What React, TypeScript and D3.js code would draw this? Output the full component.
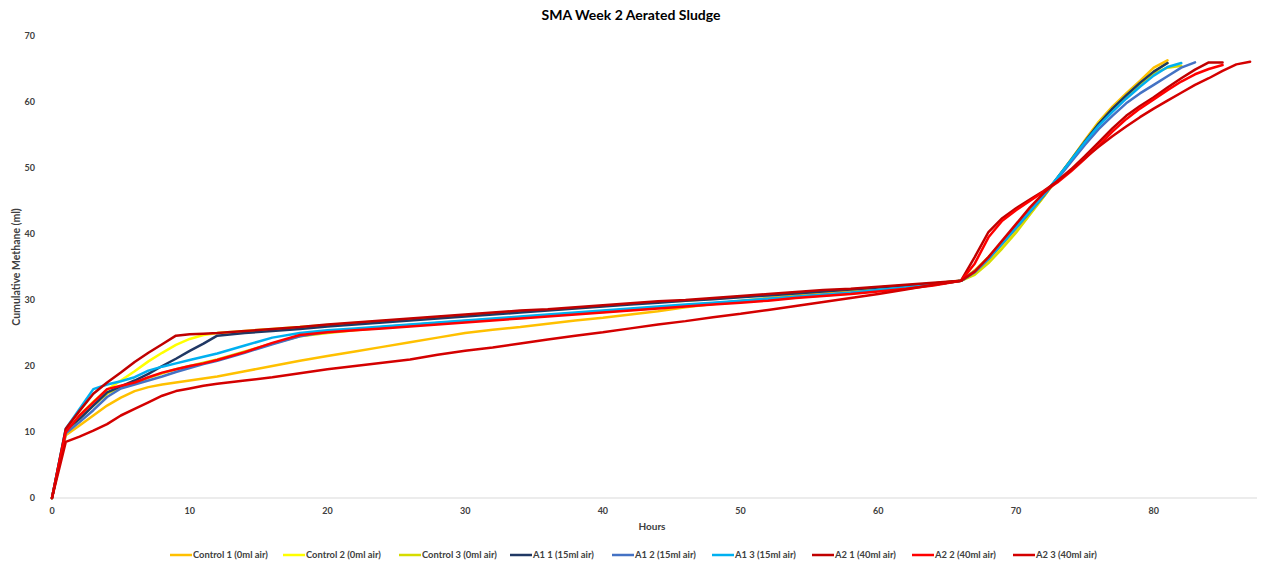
import React from "react";
import * as d3 from "d3";

const hours = [0,1,2,3,4,5,6,7,8,9,10,11,12,14,16,18,20,22,24,26,28,30,32,34,36,38,40,42,44,46,48,50,52,54,56,58,60,62,64,66,67,68,69,70,71,72,73,74,75,76,77,78,79,80,81,82,83,84,85,86,87];

type V = number | null;
const _ = null;

const control1: V[] = [0,9.5,11,12.5,14,15.2,16.2,16.8,17.2,17.5,17.8,18.1,18.4,19.2,20.0,20.8,21.5,22.2,22.9,23.6,24.3,25.0,25.5,25.9,26.4,26.9,27.3,27.8,28.3,28.9,29.4,29.9,30.3,30.7,31.1,31.4,31.8,32.1,32.5,32.9,34.5,36.5,38.8,41.2,43.5,45.8,48.5,51.3,54.2,57.0,59.3,61.3,63.2,65.2,66.3,_,_,_,_,_,_];
const control2: V[] = [0,10,12.5,14.6,16.4,17.8,19.2,20.7,22.0,23.2,24.1,24.7,25.0,25.3,25.6,25.9,26.2,26.5,26.8,27.1,27.4,27.7,28.0,28.3,28.5,28.8,29.1,29.4,29.7,29.9,30.2,30.5,30.8,31.1,31.4,31.6,31.9,32.2,32.5,32.9,34.0,35.8,38.0,40.4,43.0,45.6,48.4,51.2,54.0,56.8,59.0,61.0,62.9,64.6,65.9,_,_,_,_,_,_];
const control3: V[] = [0,9.8,12,14,15.8,16.8,17.4,18.2,18.9,19.5,20,20.5,21,22.2,23.4,24.5,25.0,25.4,25.8,26.1,26.4,26.7,27.0,27.3,27.6,27.9,28.2,28.5,28.8,29.1,29.4,29.7,30.0,30.4,30.7,31.0,31.4,31.8,32.3,32.9,33.8,35.6,37.8,40.2,42.9,45.6,48.4,51.2,54.0,56.6,58.8,60.8,62.6,64.3,65.2,65.5,_,_,_,_,_];
const a1_1: V[] = [0,10.3,12,14,16,16.9,17.8,18.8,20.0,21.1,22.3,23.4,24.6,25.0,25.3,25.6,26.0,26.3,26.6,26.9,27.2,27.5,27.8,28.1,28.4,28.7,29.0,29.3,29.6,29.9,30.1,30.4,30.7,31.0,31.3,31.6,31.9,32.2,32.5,32.9,34.3,36.4,38.7,41.0,43.4,45.8,48.5,51.2,54.0,56.7,59.0,61.0,62.9,64.6,65.9,_,_,_,_,_,_];
const a1_2: V[] = [0,9.8,11.5,13.3,15.3,16.6,17.2,17.8,18.4,19.1,19.7,20.3,20.8,22.0,23.3,24.5,25.2,25.5,25.9,26.2,26.5,26.8,27.1,27.4,27.7,28.0,28.3,28.6,28.9,29.2,29.5,29.8,30.1,30.5,30.8,31.1,31.5,31.9,32.3,32.9,34.2,36.2,38.5,40.9,43.3,45.8,48.3,50.9,53.5,55.9,57.9,59.8,61.3,62.6,63.9,65.2,66.0,_,_,_,_];
const a1_3: V[] = [0,10.5,13.5,16.5,17.2,17.7,18.3,19.3,19.9,20.4,20.9,21.4,21.9,23.1,24.3,25.0,25.4,25.7,26.0,26.3,26.6,26.9,27.2,27.5,27.8,28.1,28.4,28.7,29.0,29.3,29.6,29.9,30.2,30.5,30.8,31.1,31.5,31.9,32.3,32.9,34.3,36.3,38.6,41.0,43.4,45.9,48.5,51.2,53.9,56.4,58.5,60.5,62.3,64.0,65.3,65.9,_,_,_,_,_];
const a2_1: V[] = [0,10.5,13.2,15.8,17.5,19.0,20.6,22.0,23.3,24.6,24.8,24.9,25.0,25.3,25.6,25.9,26.3,26.6,26.9,27.2,27.5,27.8,28.1,28.4,28.6,28.9,29.2,29.5,29.8,30.0,30.3,30.6,30.9,31.2,31.5,31.7,32.0,32.3,32.6,32.9,36.5,40.3,42.4,43.9,45.2,46.5,48.0,49.8,51.8,53.9,56.0,57.9,59.4,60.7,62.2,63.6,64.9,66.0,66.0,_,_];
const a2_2: V[] = [0,10,12.5,14.5,16.5,17.0,17.5,18.3,19.0,19.5,20.0,20.4,20.9,22.1,23.5,24.7,25.1,25.4,25.7,26.0,26.3,26.6,26.9,27.2,27.5,27.8,28.1,28.4,28.7,29.0,29.3,29.6,29.9,30.3,30.6,30.9,31.3,31.7,32.2,32.9,35.5,39.5,42.0,43.6,45.0,46.4,47.8,49.5,51.4,53.4,55.5,57.4,59.0,60.4,61.8,63.1,64.2,65.0,65.6,_,_];
const a2_3: V[] = [0,8.5,9.3,10.2,11.2,12.5,13.5,14.5,15.5,16.2,16.6,17.0,17.3,17.8,18.3,18.9,19.5,20.0,20.5,21.0,21.7,22.3,22.8,23.4,24.0,24.6,25.1,25.7,26.3,26.8,27.4,27.9,28.5,29.1,29.7,30.3,30.9,31.6,32.3,32.9,34.3,36.5,39.0,41.5,44.0,46.2,48.0,49.7,51.5,53.2,54.8,56.3,57.7,59.0,60.2,61.4,62.6,63.6,64.7,65.7,66.1];

const seriesNames = ["Control 1 (0ml air)","Control 2 (0ml air)","Control 3 (0ml air)","A1 1 (15ml air)","A1 2 (15ml air)","A1 3 (15ml air)","A2 1 (40ml air)","A2 2 (40ml air)","A2 3 (40ml air)"];
const seriesValues = [control1, control2, control3, a1_1, a1_2, a1_3, a2_1, a2_2, a2_3];
const seriesColors = ["#FFC000","#FFFF00","#D6DC00","#203864","#4472C4","#00B0F0","#C00000","#FF0000","#D40000"];
const xTicks = [0,10,20,30,40,50,60,70,80];
const yTicks = [0,10,20,30,40,50,60,70];
const legendStarts = [170,283,399,510,612,712,812,912,1013];

const W = 1262, H = 564;
const FONT = "Lato, 'Open Sans', sans-serif";

export default function App() {
  const x = d3.scaleLinear().domain([0, 87.5]).range([52, 1257]);
  const y = d3.scaleLinear().domain([0, 70]).range([498, 36]);
  const line = d3.line<[number, V]>()
    .defined(d => d[1] !== null)
    .x(d => x(d[0]))
    .y(d => y(d[1] as number));

  return (
    <svg width={W} height={H} style={{ position: "absolute", left: 0, top: 0, background: "#fff" }} fontFamily={FONT}>
      <rect width={W} height={H} fill="#fff" />
      <text x={631} y={20} textAnchor="middle" fontSize={14} fontWeight="bold" fill="#000">SMA Week 2 Aerated Sludge</text>
      <line x1={x(0)} x2={1257} y1={y(0)} y2={y(0)} stroke="#d9d9d9" strokeWidth={1} />
      {yTicks.map(t => (
        <text key={"y" + t} x={35} y={y(t) + 3} textAnchor="end" fontSize={9} fontWeight="bold" fill="#404040">{t}</text>
      ))}
      {xTicks.map(t => (
        <text key={"x" + t} x={x(t)} y={514} textAnchor="middle" fontSize={9} fontWeight="bold" fill="#404040">{t}</text>
      ))}
      <text x={652} y={530} textAnchor="middle" fontSize={10} fontWeight="bold" fill="#404040">Hours</text>
      <text transform={`translate(20,${y(35)}) rotate(-90)`} textAnchor="middle" fontSize={10.5} fontWeight="bold" fill="#404040">Cumulative Methane (ml)</text>
      {seriesValues.map((vals, i) => (
        <path key={seriesNames[i]} d={line(hours.map((h, j) => [h, vals[j]] as [number, V])) || ""}
          fill="none" stroke={seriesColors[i]} strokeWidth={2.5} strokeLinejoin="round" strokeLinecap="round" />
      ))}
      {seriesNames.map((n, i) => (
        <g key={"lg" + i} transform={`translate(${legendStarts[i]},555)`}>
          <line x1={0} x2={22} y1={0} y2={0} stroke={seriesColors[i]} strokeWidth={2.5} />
          <text x={23} y={3.3} fontSize={9.4} fontWeight="bold" fill="#404040">{n}</text>
        </g>
      ))}
    </svg>
  );
}
